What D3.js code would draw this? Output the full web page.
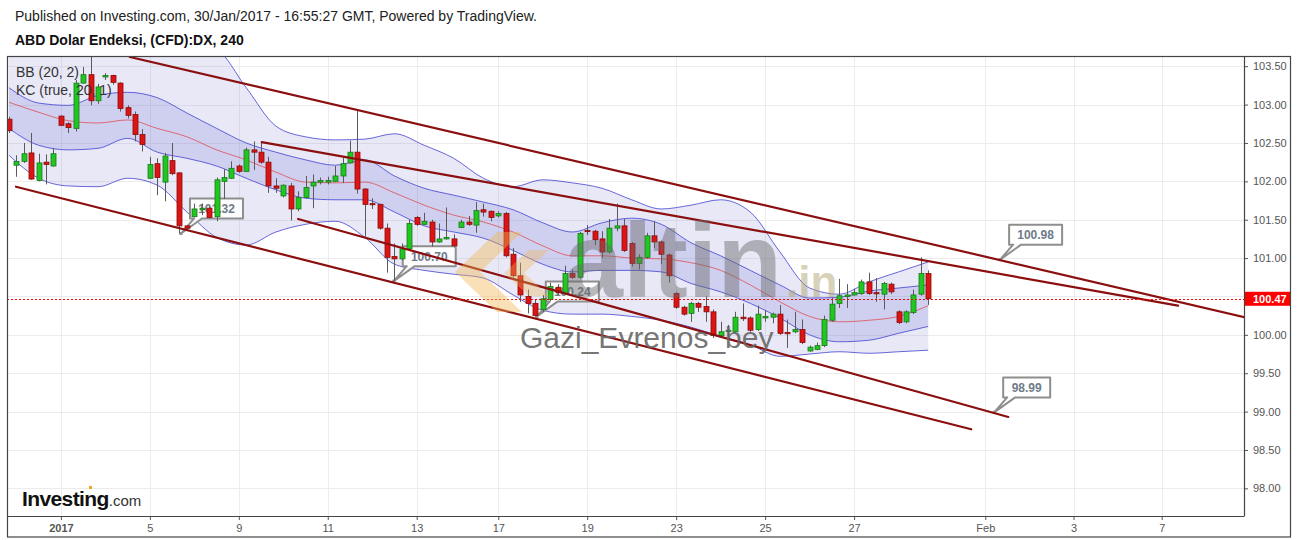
<!DOCTYPE html>
<html><head><meta charset="utf-8">
<script src="https://cdn.jsdelivr.net/npm/d3@7"></script>
<style>
html,body{margin:0;padding:0;background:#fff;}
svg{display:block;font-family:"Liberation Sans",Arial,sans-serif;}
</style></head><body>
<svg id="chart" width="1297" height="540"></svg>
<script>
// ---------- DATA (4h candles, DX) ----------
const opens = [102.81,102.21,102.26,102.37,102.01,102.25,102.20,102.85,102.75,102.69,
103.28,103.39,103.05,103.36,103.38,103.28,102.96,102.87,102.61,102.04,
102.23,101.99,102.27,102.11,101.42,101.54,101.63,101.65,101.54,102.00,
102.04,102.20,102.13,102.41,102.38,102.25,101.94,101.81,101.94,101.64,
101.79,101.94,101.99,101.99,102.00,102.07,102.24,102.38,101.90,101.71,
101.70,101.39,101.02,100.99,101.12,101.53,101.44,101.47,101.21,101.25,
101.25,101.40,101.47,101.43,101.63,101.61,101.55,101.58,101.05,100.77,
100.50,100.41,100.33,100.46,100.62,100.54,100.80,100.75,101.36,101.35,
101.25,101.08,101.39,101.42,101.19,100.93,101.01,101.29,101.21,101.04,
100.54,100.36,100.28,100.41,100.37,100.30,99.99,100.05,100.04,100.23,
100.22,100.07,100.22,100.23,100.27,100.03,100.04,100.07,99.79,99.81,
99.86,100.19,100.41,100.50,100.52,100.54,100.69,100.55,100.53,100.66,
100.30,100.17,100.29,100.53,100.80];
const highs = [102.84,102.34,102.50,102.63,102.36,102.35,102.43,102.86,102.77,103.32,
103.49,103.70,103.27,103.41,103.39,103.29,102.99,102.91,102.68,102.32,
102.30,102.37,102.50,102.12,101.43,101.71,101.71,101.67,102.05,102.16,
102.26,102.22,102.44,102.52,102.50,102.32,102.04,101.96,101.98,101.87,
102.07,102.09,102.05,102.06,102.20,102.31,102.53,102.94,101.91,101.78,
101.71,101.45,101.19,101.19,101.50,101.55,101.59,101.50,101.45,101.66,
101.31,101.50,101.55,101.73,101.71,101.62,101.61,101.60,101.13,100.94,
100.59,100.46,100.52,100.68,100.66,100.90,100.85,101.34,101.43,101.37,
101.35,101.51,101.71,101.51,101.21,101.05,101.33,101.48,101.23,101.06,
100.56,100.38,100.43,100.43,100.50,100.33,100.17,100.13,100.30,100.41,
100.24,100.38,100.32,100.29,100.39,100.20,100.30,100.20,99.86,99.90,
100.25,100.48,100.73,100.66,100.60,100.72,100.81,100.74,100.69,100.68,
100.32,100.32,100.59,101.01,100.84];
const lows = [102.63,102.06,102.24,102.02,102.00,101.96,102.19,102.72,102.63,102.65,
103.27,102.99,103.01,103.32,103.26,102.91,102.82,102.52,102.39,102.03,
101.82,101.74,102.08,101.32,101.36,101.53,101.56,101.52,101.48,101.77,
102.03,102.11,102.13,102.15,102.23,101.85,101.85,101.79,101.49,101.61,
101.78,101.65,101.96,101.96,101.99,101.98,102.23,101.84,101.28,101.64,
101.37,100.81,100.70,100.97,101.11,101.42,101.43,101.15,101.20,101.24,
101.14,101.39,101.42,101.33,101.54,101.48,101.53,101.01,100.75,100.43,
100.28,100.24,100.30,100.44,100.52,100.52,100.73,100.73,101.30,101.17,
101.00,101.06,101.35,101.08,100.89,100.85,100.99,101.13,100.92,100.68,
100.34,100.25,100.17,100.30,100.17,99.96,99.97,99.93,100.02,100.18,
100.04,100.05,100.17,100.15,100.00,99.83,100.02,99.88,99.78,99.80,
99.84,100.17,100.35,100.35,100.51,100.52,100.52,100.43,100.33,100.53,
100.14,100.15,100.27,100.51,100.39];
const closes = [102.66,102.26,102.36,102.03,102.24,102.22,102.36,102.73,102.70,103.28,
103.39,103.05,103.23,103.38,103.29,102.95,102.86,102.61,102.48,102.22,
102.05,102.33,102.10,101.42,101.39,101.64,101.65,101.53,102.02,102.05,
102.17,102.13,102.41,102.38,102.25,101.94,101.91,101.95,101.64,101.79,
101.92,101.99,102.01,102.01,102.07,102.23,102.38,101.90,101.70,101.70,
101.39,101.01,100.99,101.12,101.45,101.44,101.48,101.21,101.25,101.27,
101.16,101.47,101.44,101.62,101.60,101.53,101.58,101.03,100.77,100.52,
100.41,100.25,100.47,100.63,100.55,100.80,100.75,101.32,101.35,101.24,
101.08,101.39,101.42,101.10,100.93,101.01,101.29,101.21,101.05,100.77,
100.36,100.27,100.41,100.36,100.30,99.99,100.04,100.06,100.23,100.21,
100.06,100.27,100.24,100.27,100.02,100.02,100.07,99.90,99.84,99.86,
100.20,100.40,100.51,100.52,100.55,100.69,100.54,100.54,100.67,100.56,
100.16,100.30,100.52,100.80,100.47];

// Indicator readings (sampled every 4 bars)
const bandIdx = [0,4,8,12,16,20,24,28,32,36,40,44,48,52,56,60,64,68,72,76,80,84,88,92,96,100,104,108,112,116,120,124];
const bbUpper = [103.78,103.91,103.87,103.84,103.81,103.78,103.78,103.71,103.22,102.72,102.58,102.54,102.55,102.62,102.47,102.30,102.04,101.93,102.02,101.98,101.91,101.76,101.64,101.69,101.76,101.60,101.08,100.61,100.53,100.69,100.82,100.95];
const kcUpper = [103.22,103.02,102.99,103.12,103.16,103.09,102.89,102.69,102.50,102.38,102.28,102.21,102.28,102.07,101.91,101.82,101.73,101.63,101.46,101.34,101.46,101.52,101.44,101.20,101.03,100.84,100.65,100.48,100.49,100.57,100.61,100.65];
const basis   = [103.03,102.90,102.79,102.76,102.80,102.69,102.58,102.41,102.28,102.12,101.99,101.98,101.99,101.85,101.69,101.56,101.47,101.34,101.16,101.03,101.03,101.00,100.99,100.94,100.84,100.65,100.43,100.24,100.17,100.19,100.24,100.38];
const kcLower = [102.69,102.47,102.41,102.43,102.56,102.38,102.30,102.20,102.04,101.89,101.78,101.76,101.76,101.60,101.42,101.34,101.26,101.10,100.92,100.82,100.84,100.84,100.82,100.67,100.56,100.41,100.22,100.00,99.91,99.93,100.02,100.11];
const bbLower = [102.34,102.04,101.94,101.93,102.04,101.95,101.60,101.27,101.17,101.34,101.44,101.48,101.27,100.92,100.84,100.79,100.74,100.52,100.32,100.27,100.27,100.24,100.19,100.10,99.98,99.87,99.72,99.75,99.78,99.76,99.78,99.80];

// Trend lines: [startIdx, startPrice, endIdx, endPrice]
const trendStartIdx = [16.3, 34.1, 0.94, 39.0];
const trendStartVal = [103.62, 102.51, 101.93, 101.51];
const trendEndIdx   = [166.7, 157.7, 129.8, 134.8];
const trendEndVal   = [100.23, 100.38, 98.77, 98.93];

// Price callouts
const calloutIdx = [23.2, 51.9, 71.2, 133.7, 132.9];
const calloutVal = [101.32, 100.70, 100.24, 100.98, 98.99];

// Axes
const xTickIdx = [7,19,31,43,55,66,78,90,102,114,131.7,143.6,155.5];
const xTickLabels = ["2017","5","9","11","13","17","19","23","25","27","Feb","3","7"];
const yTicks = [98.0,98.5,99.0,99.5,100.0,100.5,101.0,101.5,102.0,102.5,103.0,103.5];
const lastPrice = 100.47;

// ---------- DRAW ----------
const svg = d3.select("#chart");
const P = {l:7, r:1244, t:57, b:516};
const x = d3.scaleLinear().domain([-0.27, 166.6]).range([P.l, P.r]);
const y = d3.scaleLinear().domain([97.64, 103.62]).range([P.b, P.t]);

svg.append("rect").attr("width",1297).attr("height",540).attr("fill","#fff");

// header
svg.append("text").attr("x",15).attr("y",21).attr("font-size",14).attr("fill","#222")
  .text("Published on Investing.com, 30/Jan/2017 - 16:55:27 GMT, Powered by TradingView.");
svg.append("text").attr("x",15).attr("y",45).attr("font-size",14).attr("font-weight","bold").attr("fill","#111")
  .text("ABD Dolar Endeksi, (CFD):DX, 240");

const defs = svg.append("defs");
defs.append("clipPath").attr("id","clip").append("rect")
  .attr("x",P.l).attr("y",P.t).attr("width",P.r-P.l).attr("height",P.b-P.t);

// grid
const grid = svg.append("g").attr("stroke","#ececec").attr("stroke-width",1);
yTicks.forEach(v=>{ const yy=Math.round(y(v))+0.5;
  grid.append("line").attr("x1",P.l).attr("x2",P.r).attr("y1",yy).attr("y2",yy); });
xTickIdx.forEach(v=>{ const xx=Math.round(x(v))+0.5;
  grid.append("line").attr("x1",xx).attr("x2",xx).attr("y1",P.t).attr("y2",P.b); });

const plot = svg.append("g").attr("clip-path","url(#clip)");

// bands
const bandData = bandIdx.map((d,k)=>({i:d, bu:bbUpper[k], bl:bbLower[k], ku:kcUpper[k], kl:kcLower[k], m:basis[k]}));
const curve = d3.curveMonotoneX;
plot.append("path").datum(bandData)
  .attr("d", d3.area().x(d=>x(d.i)).y0(d=>y(d.bl)).y1(d=>y(d.bu)).curve(curve))
  .attr("fill","rgba(140,140,215,0.2)");
plot.append("path").datum(bandData)
  .attr("d", d3.area().x(d=>x(d.i)).y0(d=>y(d.kl)).y1(d=>y(d.ku)).curve(curve))
  .attr("fill","rgba(110,110,215,0.2)");
[["bu","#3a3ad0"],["bl","#3a3ad0"],["ku","#3a3ad0"],["kl","#3a3ad0"],["m","#e04848"]].forEach(([k,c])=>{
  plot.append("path").datum(bandData)
    .attr("d", d3.line().x(d=>x(d.i)).y(d=>y(d[k])).curve(curve))
    .attr("fill","none").attr("stroke",c).attr("stroke-width",0.9).attr("opacity",0.85);
});

// callouts (under candles)
const cg = plot.append("g");
calloutIdx.forEach((ci,k)=>{
  const tx=x(ci), ty=y(calloutVal[k]);
  const label = d3.format(".2f")(calloutVal[k]);
  const w = label.length>5?53:47, h=20;
  const bx=tx+9, by=ty-35;
  cg.append("path")
    .attr("d",`M${bx},${by}H${bx+w}V${by+h}H${bx+12}L${tx},${ty}L${bx+4},${by+h}H${bx}Z`)
    .attr("fill","rgba(255,255,255,0.85)").attr("stroke","#8e8e8e").attr("stroke-width",2)
    .attr("stroke-linejoin","round");
  cg.append("rect").attr("x",tx-1.5).attr("y",ty-1.5).attr("width",3).attr("height",3).attr("fill","#8e8e8e");
  cg.append("text").attr("x",bx+w/2).attr("y",by+h/2+4.5).attr("text-anchor","middle")
    .attr("font-size",12).attr("font-weight","bold").attr("fill","#6f7b8a").text(label);
});

// candles
const cdl = plot.append("g");
opens.forEach((o,i)=>{
  const c=closes[i], up=c>=o;
  const cx=Math.round(x(i))+0.5;
  cdl.append("line").attr("x1",cx).attr("x2",cx).attr("y1",y(highs[i])).attr("y2",y(lows[i]))
    .attr("stroke","#5a5a5a").attr("stroke-width",1);
  const yt=y(Math.max(o,c)), yb=y(Math.min(o,c));
  cdl.append("rect").attr("x",cx-2.5).attr("y",yt).attr("width",5).attr("height",Math.max(1.2,yb-yt))
    .attr("fill",up?"#22c522":"#dc1414").attr("stroke",up?"#177a17":"#8a0b0b").attr("stroke-width",0.8);
});

// trend lines
trendStartIdx.forEach((s,k)=>{
  plot.append("line").attr("x1",x(s)).attr("y1",y(trendStartVal[k]))
    .attr("x2",x(trendEndIdx[k])).attr("y2",y(trendEndVal[k]))
    .attr("stroke","#8c0f0f").attr("stroke-width",2.2).attr("stroke-linecap","round");
});

// last price dotted line
const lpY = Math.round(y(lastPrice))+0.5;
plot.append("line").attr("x1",P.l).attr("x2",P.r).attr("y1",lpY).attr("y2",lpY)
  .attr("stroke","#ff0000").attr("stroke-width",1.2).attr("stroke-dasharray","2,2");

// watermark
const wm = plot.append("g");
wm.append("polygon").attr("points","497,232 522,232 480,272 522,312 497,312 455,272").attr("fill","rgba(240,180,80,0.42)");
wm.append("polygon").attr("points","529,250 549,250 524,273 549,296 529,296 504,273").attr("fill","rgba(240,180,80,0.36)");
wm.append("text").attr("x",564).attr("y",297).attr("font-size",106).attr("font-weight","bold")
  .attr("fill","rgba(105,105,105,0.45)").text("altin");
wm.append("text").attr("x",786).attr("y",297).attr("font-size",44).attr("font-weight","bold")
  .attr("fill","rgba(175,165,115,0.5)").text(".in");
wm.append("text").attr("x",520).attr("y",348).attr("font-size",30)
  .attr("fill","rgba(100,100,100,0.9)").text("Gazi_Evrenos_bey");

// legend
svg.append("text").attr("x",16).attr("y",77).attr("font-size",14).attr("fill","#333").text("BB (20, 2)");
svg.append("text").attr("x",16).attr("y",95).attr("font-size",14).attr("fill","#333").text("KC (true, 20, 1)");

// axes
const yAxis = svg.append("g").attr("transform",`translate(${P.r},0)`)
  .call(d3.axisRight(y).tickValues(yTicks).tickFormat(d3.format(".2f")).tickSize(4).tickPadding(5));
yAxis.select(".domain").remove();
yAxis.selectAll("text").attr("font-size",11).attr("fill","#555").attr("font-family","'Liberation Sans',Arial,sans-serif");
yAxis.selectAll("line").attr("stroke","#555");

const xAxis = svg.append("g").attr("transform",`translate(0,${P.b})`)
  .call(d3.axisBottom(x).tickValues(xTickIdx).tickFormat((d,k)=>xTickLabels[k]).tickSize(4).tickPadding(4));
xAxis.select(".domain").remove();
xAxis.selectAll("text").attr("font-size",11).attr("fill","#555").attr("font-family","'Liberation Sans',Arial,sans-serif")
  .attr("font-weight",(d,k)=>k===0?"bold":"normal");
xAxis.selectAll("line").attr("stroke","#555");

// price label
const py = y(lastPrice);
svg.append("rect").attr("x",P.r).attr("y",py-7).attr("width",46).attr("height",14).attr("fill","#ff0000");
svg.append("text").attr("x",P.r+9).attr("y",py+4).attr("font-size",11).attr("font-weight","bold").attr("fill","#fff")
  .text(d3.format(".2f")(lastPrice));

// frame
const fr = svg.append("g").attr("fill","none").attr("stroke","#444").attr("stroke-width",1.2);
fr.append("rect").attr("x",P.l+0.5).attr("y",P.t-0.5).attr("width",1290-P.l).attr("height",537-P.t+0.5);
fr.append("line").attr("x1",P.r+0.5).attr("x2",P.r+0.5).attr("y1",P.t).attr("y2",P.b);
fr.append("line").attr("x1",P.l).attr("x2",P.r+0.5).attr("y1",P.b+0.5).attr("y2",P.b+0.5);

// Investing logo
const logo = svg.append("text").attr("x",22).attr("y",506).attr("fill","#111");
logo.append("tspan").attr("font-size",21).attr("font-weight","bold").attr("letter-spacing","-0.6").text("Investing");
logo.append("tspan").attr("font-size",15).attr("fill","#333").text(".com");
svg.append("rect").attr("x",89).attr("y",486).attr("width",3).attr("height",3).attr("fill","#f2a81d");
</script>
</body></html>
